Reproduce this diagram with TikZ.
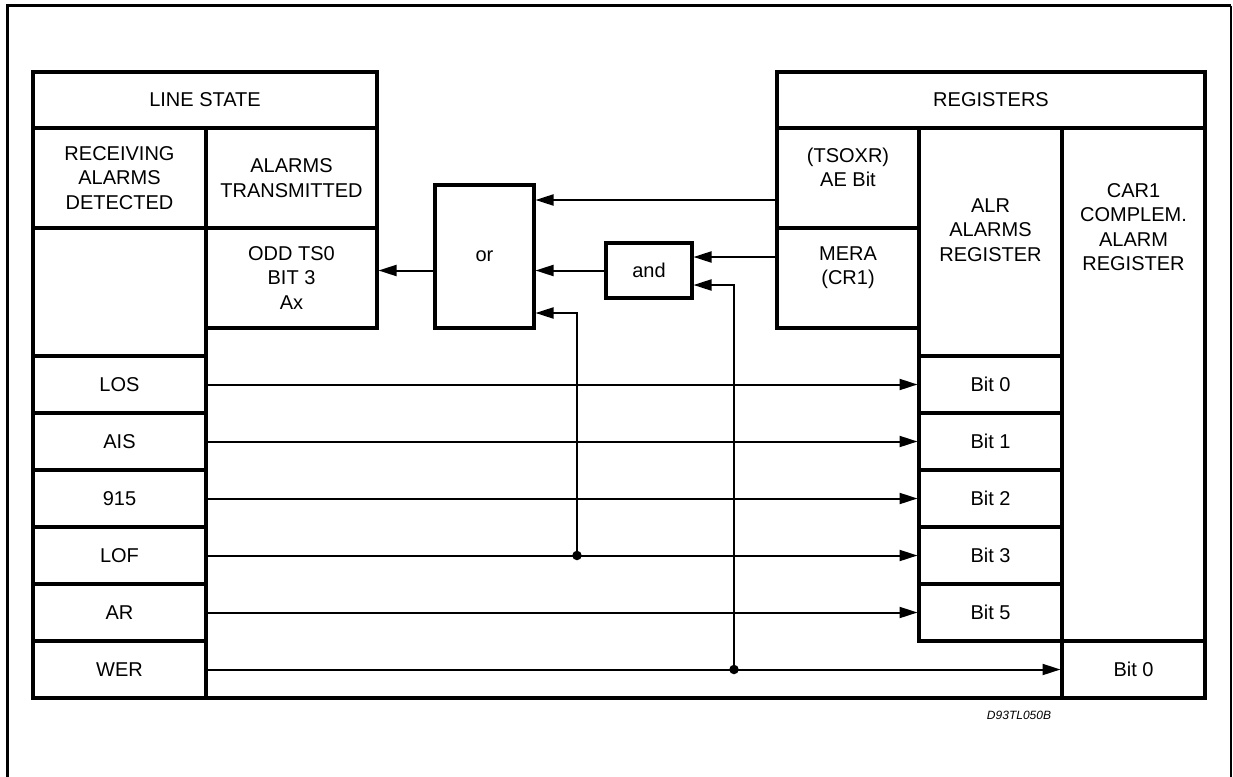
\documentclass[tikz,border=0pt]{standalone}
\usepackage{fontspec}
\setmainfont{Liberation Sans}
\usetikzlibrary{arrows.meta}
\begin{document}
\begin{tikzpicture}[x=1pt,y=-1pt,
  cell/.style={draw, line width=3.4pt, inner sep=0pt, outer sep=0pt, align=center,
    font=\fontsize{20pt}{24.5pt}\selectfont},
  txt/.style={inner sep=0pt, align=center, font=\fontsize{20pt}{24.5pt}\selectfont},
  conn/.style={line width=2pt, shorten >=1.5pt, -{Triangle[length=18pt,width=11pt]}},
  border/.style={line width=3.4pt},
  dot/.style={circle, fill, inner sep=0pt, minimum size=9.5pt}]
\useasboundingbox (0,0) rectangle (1233,776);
% outer frame
\draw[line width=2.7pt] (7.3,790) -- (7.3,5.7) -- (1231,5.7);
\draw[line width=1.5pt] (1231,5.7) -- (1231,790);
% LINE STATE block
\node[cell, minimum width=344pt, minimum height=56pt] (ls) at (205,100) {LINE STATE};
\node[cell, minimum width=173pt, minimum height=100pt] (rad) at (119.5,178) {RECEIVING\\ALARMS\\DETECTED};
\node[cell, minimum width=171pt, minimum height=100pt] (atx) at (291.5,178) {ALARMS\\TRANSMITTED};
\node[cell, minimum width=173pt, minimum height=128pt] (emp) at (119.5,292) {};
\node[cell, minimum width=171pt, minimum height=100pt] (odd) at (291.5,278) {ODD TS0\\BIT 3\\Ax};
\node[cell, minimum width=173pt, minimum height=57pt] (los) at (119.5,384.5) {LOS};
\node[cell, minimum width=173pt, minimum height=57pt] (ais) at (119.5,441.5) {AIS};
\node[cell, minimum width=173pt, minimum height=57pt] (n915) at (119.5,498.5) {915};
\node[cell, minimum width=173pt, minimum height=57pt] (lof) at (119.5,555.5) {LOF};
\node[cell, minimum width=173pt, minimum height=57pt] (ar) at (119.5,612.5) {AR};
\node[cell, minimum width=173pt, minimum height=57pt] (wer) at (119.5,669.5) {WER};
% REGISTERS block
\node[cell, minimum width=428pt, minimum height=56pt] (reg) at (991,100) {REGISTERS};
\node[cell, minimum width=142pt, minimum height=100pt] (tsoxr) at (848,178) {};
\node[txt] (tsoxrt) at (848,167.5) {(TSOXR)\\AE Bit};
\node[cell, minimum width=142pt, minimum height=100pt] (mera) at (848,278) {};
\node[txt] (merat) at (848,267.5) {MERA\\(CR1)};
\node[cell, minimum width=143pt, minimum height=228pt] (alr) at (990.5,242) {};
\node[txt] (alrt) at (990.5,230) {ALR\\ALARMS\\REGISTER};
\node[cell, minimum width=143pt, minimum height=57pt] (alr0) at (990.5,384.5) {Bit 0};
\node[cell, minimum width=143pt, minimum height=57pt] (alr1) at (990.5,441.5) {Bit 1};
\node[cell, minimum width=143pt, minimum height=57pt] (alr2) at (990.5,498.5) {Bit 2};
\node[cell, minimum width=143pt, minimum height=57pt] (alr3) at (990.5,555.5) {Bit 3};
\node[cell, minimum width=143pt, minimum height=57pt] (alr5) at (990.5,612.5) {Bit 5};
\node[cell, minimum width=143pt, minimum height=513pt] (car) at (1133.5,384.5) {};
\node[txt] (cart) at (1133.5,227) {CAR1\\COMPLEM.\\ALARM\\REGISTER};
\node[cell, minimum width=143pt, minimum height=57pt] (car0) at (1133.5,669.5) {Bit 0};
% common bottom line
\draw[border] (wer.south east) -- (car0.south west);
% gates
\node[cell, minimum width=99pt, minimum height=143pt] (or) at (484.5,256.5) {or};
\node[cell, minimum width=86pt, minimum height=55pt] (and) at (649,270.5) {and};
% gate connections
\coordinate (a1) at ([yshift=-22pt]tsoxr.west);
\draw[conn] (a1) -- (a1 -| or.east);
\coordinate (a2) at ([yshift=21pt]mera.west);
\draw[conn] (a2) -- (a2 -| and.east);
\draw[conn] (and.west) -- (and.west -| or.east);
\draw[conn] (or.west |- and.west) -- (and.west -| odd.east);
% alarm lines
\draw[conn] (los.east) -- (alr0.west);
\draw[conn] (ais.east) -- (alr1.west);
\draw[conn] (n915.east) -- (alr2.west);
\draw[conn] (lof.east) -- (alr3.west);
\draw[conn] (ar.east) -- (alr5.west);
\draw[conn] (wer.east) -- (car0.west);
% branches
\coordinate (j1) at (lof.east -| 577,0);
\coordinate (or3) at ([yshift=-56.5pt]or.east);
\draw[conn] (j1) |- (or3);
\node[dot] (d1) at (j1) {};
\coordinate (j2) at (wer.east -| 734,0);
\coordinate (and3) at ([yshift=-14.5pt]and.east);
\draw[conn] (j2) |- (and3);
\node[dot] (d2) at (j2) {};
% drawing code
\node[inner sep=0pt, font=\fontsize{12pt}{14pt}\selectfont\itshape] (code) at (1019,715) {D93TL050B};
\end{tikzpicture}
\end{document}
